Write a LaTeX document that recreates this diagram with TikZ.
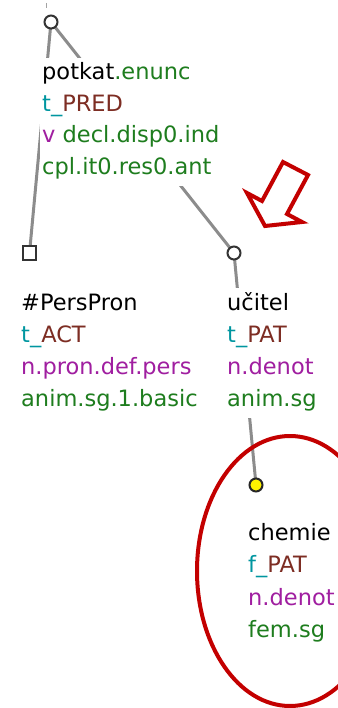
\documentclass[tikz,border=0pt]{standalone}
\usepackage{fontspec}
\setmainfont{DejaVu Sans}
\usetikzlibrary{backgrounds,fit}
\definecolor{tealc}{RGB}{0,150,160}
\definecolor{brownc}{RGB}{125,45,35}
\definecolor{purplec}{RGB}{160,30,160}
\definecolor{greenc}{RGB}{30,125,30}
\definecolor{edgec}{RGB}{140,140,140}
\definecolor{redc}{RGB}{195,0,0}
\begin{document}
\begin{tikzpicture}[x=1pt,y=-1pt,
  lbl/.style={anchor=base west, fill=white, inner xsep=2pt, inner ysep=5pt,
              text height=17pt, text depth=6pt, font=\fontsize{22.5}{27}\selectfont},
  blockbg/.style={fill=white, inner sep=0pt},
  edge/.style={draw=edgec, line width=3pt},
  tnode/.style={circle, draw=black!80, line width=2pt, fill=white, minimum size=13pt, inner sep=0pt},
  snode/.style={rectangle, draw=black!80, line width=2pt, fill=white, minimum size=13pt, inner sep=0pt},
  ynode/.style={circle, draw=black!85, line width=2pt, fill=yellow, minimum size=13pt, inner sep=0pt},
  redmark/.style={draw=redc, line width=4pt}]
\useasboundingbox (0,0) rectangle (337,708);
% tree nodes
\node[tnode] (potkat) at (51,22) {};
\node[snode] (pers) at (29.5,253) {};
\node[tnode] (ucitel) at (234,253) {};
\node[ynode] (chemie) at (256,485) {};
\coordinate (stubA) at (46.7,3);
\coordinate (stubB) at (46.7,8.5);
% labels: potkat
\node[lbl] (p1) at (40,80) {potkat\textcolor{greenc}{.enunc}};
\node[lbl] (p2) at (40,111.5) {\textcolor{tealc}{t\_}\textcolor{brownc}{PRED}};
\node[lbl] (p3) at (40,143) {\textcolor{purplec}{v} \textcolor{greenc}{decl.disp0.ind}};
\node[lbl] (p4) at (40,174.5) {\textcolor{greenc}{cpl.it0.res0.ant}};
% labels: PersPron
\node[lbl] (a1) at (19,310) {\#PersPron};
\node[lbl] (a2) at (19,342) {\textcolor{tealc}{t\_}\textcolor{brownc}{ACT}};
\node[lbl] (a3) at (19,374.5) {\textcolor{purplec}{n.pron.def.pers}};
\node[lbl] (a4) at (19,406.5) {\textcolor{greenc}{anim.sg.1.basic}};
% labels: ucitel
\node[lbl] (u1) at (225,310) {učitel};
\node[lbl] (u2) at (225,342) {\textcolor{tealc}{t\_}\textcolor{brownc}{PAT}};
\node[lbl] (u3) at (225,374.5) {\textcolor{purplec}{n.denot}};
\node[lbl] (u4) at (225,406.5) {\textcolor{greenc}{anim.sg}};
% labels: chemie
\node[lbl] (c1) at (246,540) {chemie};
\node[lbl] (c2) at (246,572.5) {\textcolor{tealc}{f\_}\textcolor{brownc}{PAT}};
\node[lbl] (c3) at (246,605) {\textcolor{purplec}{n.denot}};
\node[lbl] (c4) at (246,637) {\textcolor{greenc}{fem.sg}};
% edges and label backgrounds
\begin{pgfonlayer}{background}
\draw[edge] (potkat.center) -- (pers.center);
\draw[edge] (potkat.center) -- (ucitel.center);
\draw[edge] (ucitel.center) -- (chemie.center);
\draw[draw=edgec!80, line width=1.5pt] (stubA) -- (stubB);
\node[blockbg, fit=(p1)(p2)(p3)(p4)] (pbg) {};
\node[blockbg, fit=(a1)(a2)(a3)(a4)] (abg) {};
\node[blockbg, fit=(u1)(u2)(u3)(u4)] (ubg) {};
\node[blockbg, fit=(c1)(c2)(c3)(c4)] (cbg) {};
\end{pgfonlayer}
% red highlight marks
\draw[redmark, fill=white, line join=miter] (283,162) -- (308,175) -- (287,214) -- (302,222)
  -- (265,226) -- (247,193) -- (262,201) -- cycle;
\draw[redmark] (290,571) ellipse [x radius=93, y radius=135];
\end{tikzpicture}
\end{document}
